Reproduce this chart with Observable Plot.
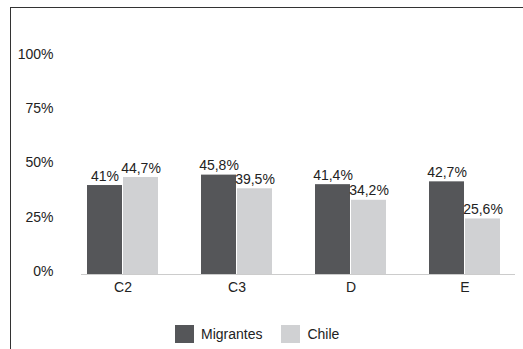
<!DOCTYPE html>
<html>
<head>
<meta charset="utf-8">
<script src="https://cdn.jsdelivr.net/npm/d3@7"></script>
<script src="https://cdn.jsdelivr.net/npm/@observablehq/plot@0.6"></script>
<style>
  html, body { margin: 0; padding: 0; background: #fff; }
  #wrap {
    position: relative; width: 523px; height: 349px; overflow: hidden;
    font-family: "Liberation Sans", Arial, sans-serif; font-size: 14px; color: #222;
  }
  #border {
    position: absolute; left: 10px; top: 7px; width: 520px; height: 360px;
    border-top: 1px solid #333; border-left: 1px solid #333; box-sizing: border-box;
  }
  #chart { position: absolute; left: 0; top: 0; }
  #legend { position: absolute; left: 175px; top: 325px; }
  #legend .lg-swatches { min-height: 0; margin: 0; font-family: "Liberation Sans", Arial, sans-serif; font-size: 14px; color: #222; }
  #legend .lg-swatch { margin-right: 19px; }
  #legend .lg-swatch > svg { margin-right: 7px; }
</style>
</head>
<body>
<div id="wrap">
  <div id="border"></div>
  <div id="chart"></div>
  <div id="legend"></div>
</div>
<script>
// Socioeconomic groups and the share (%) for each population
const categories = ["C2", "C3", "D", "E"];
const series = ["Migrantes", "Chile"];
const migrantes = [41, 45.8, 41.4, 42.7];
const chile = [44.7, 39.5, 34.2, 25.6];
const yTicks = [0, 25, 50, 75, 100];
const colors = ["#555659", "#d0d1d3"];

const rows = categories.flatMap((c, i) => [
  {grupo: c, serie: series[0], valor: migrantes[i]},
  {grupo: c, serie: series[1], valor: chile[i]}
]);
const fmt = v => String(v).replace(".", ",") + "%";

const half = 36; // each bar takes half of the group band
const plot = Plot.plot({
  width: 523,
  height: 349,
  marginTop: 57,
  marginBottom: 75,
  marginLeft: 81,
  marginRight: 8,
  style: {fontFamily: "Liberation Sans, Arial, sans-serif", fontSize: "14px", color: "#222", background: "transparent"},
  x: {domain: categories, paddingInner: 0.38, paddingOuter: 0.08, align: 0.27, label: null},
  y: {domain: [0, 100], label: null},
  color: {domain: series, range: colors},
  marks: [
    Plot.axisY({ticks: yTicks, tickFormat: d => d + "%", tickSize: 0, tickPadding: 28, dy: -3, fontSize: 14, fill: "#222"}),
    Plot.axisX({tickSize: 0, tickPadding: 8, fontSize: 14, fill: "#222"}),
    Plot.barY(rows.filter(d => d.serie === series[0]), {x: "grupo", y: "valor", fill: "serie", insetRight: half}),
    Plot.barY(rows.filter(d => d.serie === series[1]), {x: "grupo", y: "valor", fill: "serie", insetLeft: half}),
    Plot.ruleY([0], {stroke: "#cccccc", strokeWidth: 1}),
    Plot.text(rows.filter(d => d.serie === series[0]), {x: "grupo", y: "valor", text: d => fmt(d.valor), dx: -18, dy: -5, lineAnchor: "bottom", fill: "#222", fontSize: 14}),
    Plot.text(rows.filter(d => d.serie === series[1]), {x: "grupo", y: "valor", text: d => fmt(d.valor), dx: 18, dy: -5, lineAnchor: "bottom", fill: "#222", fontSize: 14})
  ]
});
document.getElementById("chart").appendChild(plot);

const legend = Plot.legend({
  color: {domain: series, range: colors},
  swatchWidth: 19,
  swatchHeight: 18,
  className: "lg"
});
document.getElementById("legend").appendChild(legend);
</script>
</body>
</html>
